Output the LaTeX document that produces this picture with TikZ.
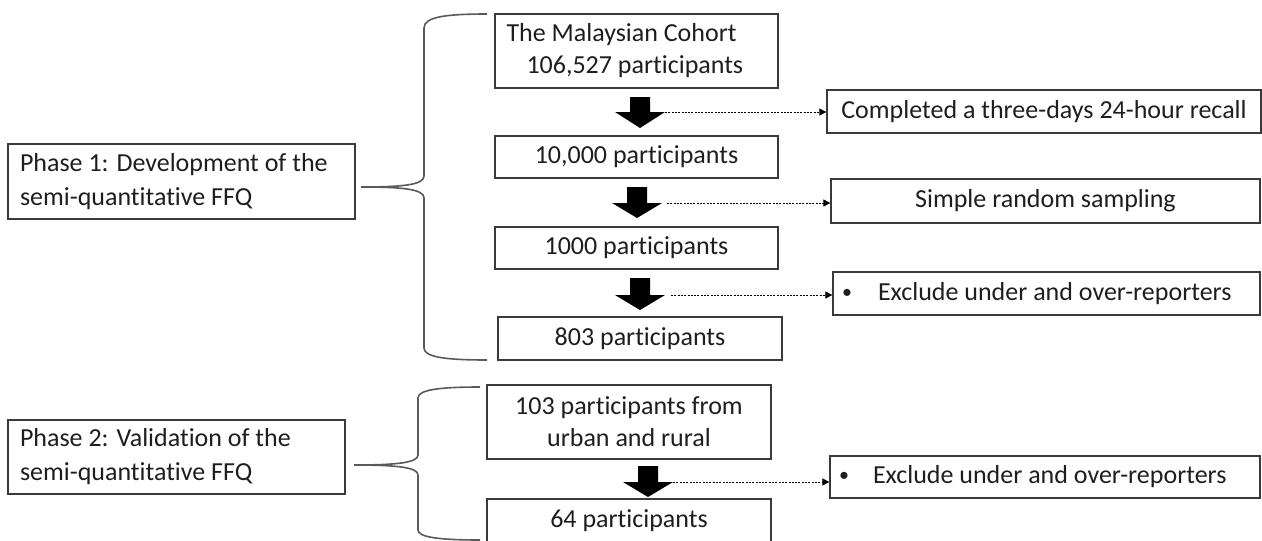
\documentclass[tikz,border=0pt]{standalone}
\usepackage{fontspec}
\setmainfont{Carlito}[Ligatures=NoCommon]
\usetikzlibrary{arrows.meta}
\definecolor{boxc}{HTML}{3A3A3A}
\definecolor{txt}{HTML}{1E1E1E}
\definecolor{bracec}{HTML}{5A5A5A}
\newcommand{\smallbul}{\raisebox{2pt}{\fontsize{20}{20}\selectfont\textbullet}}
\begin{document}
\begin{tikzpicture}[x=1pt,y=-1pt,
  box/.style={draw=boxc, line width=1.3pt, inner sep=0pt, text=txt,
    font=\fontsize{26}{32}\selectfont, align=center},
  phasebox/.style={box, font=\fontsize{26}{34}\selectfont, align=flush left},
  fatarrow/.style={fill=black, draw=none},
  dotline/.style={draw=black, line width=0.9pt, dash pattern=on 2pt off 1.3pt,
    -{Triangle[length=7pt,width=7pt]}},
  bracestyle/.style={draw=bracec, line width=1.6pt}]
\useasboundingbox (0,0) rectangle (1262,541);

% left phase boxes
\node[phasebox, minimum width=347pt, minimum height=75pt, text width=323pt] (phase1) at (181.5,181.5)
  {Phase 1: Development of the\\semi-quantitative FFQ};
\node[phasebox, minimum width=337pt, minimum height=74pt, text width=313pt] (phase2) at (176.5,457)
  {Phase 2: Validation of the\\semi-quantitative FFQ};

% main column
\node[box, minimum width=283pt, minimum height=74pt, text width=260pt, align=flush left] (cohort) at (636.5,51)
  {The Malaysian Cohort\\\hspace*{20pt}106,527 participants};
\node[box, minimum width=283pt, minimum height=42pt] (p10000) at (636.5,157) {10,000 participants};
\node[box, minimum width=283pt, minimum height=42pt] (p1000) at (636.5,248) {1000 participants};
\node[box, minimum width=284pt, minimum height=43pt] (p803) at (640,338.5) {803 participants};
\node[box, minimum width=284pt, minimum height=74pt] (p103) at (629,422) {103 participants from\\urban and rural};
\node[box, minimum width=284pt, minimum height=44pt] (p64) at (629,521) {64 participants};

% side boxes
\node[box, minimum width=434pt, minimum height=43pt] (recall) at (1044,111.5) {Completed a three-days 24-hour recall};
\node[box, minimum width=429pt, minimum height=44pt] (srs) at (1045.5,201) {Simple random sampling};
\node[box, minimum width=427pt, minimum height=43pt, text width=409pt, align=flush left] (excl1) at (1046.5,293.5)
  {\makebox[36pt][l]{\smallbul}Exclude under and over-reporters};
\node[box, minimum width=430pt, minimum height=42pt, text width=412pt, align=flush left] (excl2) at (1045,477)
  {\makebox[34pt][l]{\smallbul}Exclude under and over-reporters};

% fat arrows
\fill[fatarrow] (630,97) -- (650,97) -- (650,112) -- (665,112) -- (640,128) -- (615,112) -- (630,112) -- cycle;
\coordinate (d1) at (665,112);
\fill[fatarrow] (627,187) -- (647,187) -- (647,203) -- (662,203) -- (637,218) -- (612,203) -- (627,203) -- cycle;
\coordinate (d2) at (667,203);
\fill[fatarrow] (630,278) -- (650,278) -- (650,295) -- (665,295) -- (640,310) -- (615,295) -- (630,295) -- cycle;
\coordinate (d3) at (671,295);
\fill[fatarrow] (638,466) -- (658,466) -- (658,482) -- (673,482) -- (648,497) -- (623,482) -- (638,482) -- cycle;
\coordinate (d4) at (673,482);

% dotted connectors
\draw[dotline] (d1) -- (d1 -| recall.west);
\draw[dotline] (d2) -- (d2 -| srs.west);
\draw[dotline] (d3) -- (d3 -| excl1.west);
\draw[dotline] (d4) -- (d4 -| excl2.west);

% braces
\coordinate (t1) at (361,187);
\draw[bracestyle] (t1) .. controls (402,187) and (424,185) .. (424,176) -- (424,28)
  .. controls (424,17) and (445,14) .. (487,14);
\draw[bracestyle] (t1) .. controls (402,187) and (424,189) .. (424,198) -- (424,348)
  .. controls (424,357) and (445,360) .. (487,360);
\coordinate (t2) at (354,465);
\draw[bracestyle] (t2) .. controls (395,465) and (418,463) .. (418,455) -- (418,398)
  .. controls (418,390) and (438,387) .. (480,387);
\draw[bracestyle] (t2) .. controls (395,465) and (418,467) .. (418,475) -- (418,530)
  .. controls (418,537) and (438,540) .. (480,540);
\end{tikzpicture}
\end{document}
